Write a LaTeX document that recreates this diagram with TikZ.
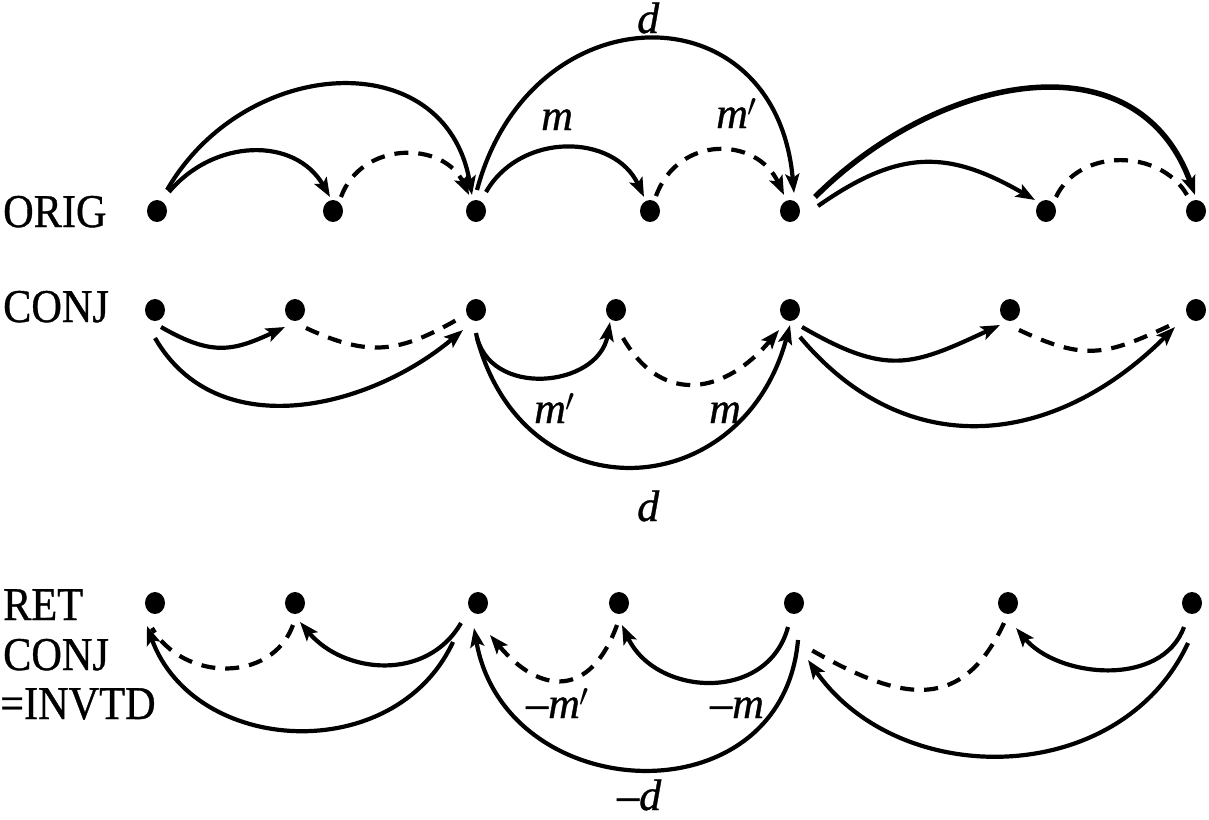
\documentclass[tikz,border=0pt]{standalone}
\usepackage{fontspec}
\setmainfont[FakeBold=0.8]{Liberation Serif}
\usetikzlibrary{arrows.meta,shapes.geometric}
\begin{document}
\begin{tikzpicture}[x=1pt,y=1pt,
 dot/.style={ellipse,fill=black,inner sep=0pt,minimum width=20pt,minimum height=22pt},
 arc/.style={line width=4.2pt,-{Stealth[length=19pt,width=14pt,inset=4pt]}},
 dsh/.style={line width=4.2pt,dash pattern=on 14pt off 10pt},
 dsharc/.style={dsh,-{Stealth[length=19pt,width=14pt,inset=4pt]}},
 lbl/.style={font=\fontsize{47}{52}\selectfont,anchor=base west,inner sep=0pt,xscale=0.9},
 ml/.style={font=\fontsize{44}{50}\selectfont\itshape,anchor=base west,inner sep=0pt}]
\useasboundingbox (0,0) rectangle (1209,-819);
\newcommand{\pr}{\scalebox{1.3}{$'$}}

% row labels
\node[lbl] (lorig) at (3,-227) {ORIG};
\node[lbl] (lconj) at (3,-322) {CONJ};
\node[lbl] (lret) at (3,-620) {RET};
\node[lbl] (lconjb) at (3,-670) {CONJ};
\node[lbl] (linv) at (0,-719) {=INVTD};

% dots
\foreach \n/\x in {1/157,2/333,3/476,4/650,5/790,6/1046,7/1196}
  \node[dot] (a\n) at (\x,-211) {};
\foreach \n/\x in {1/155,2/295,3/476,4/616,5/790,6/1010,7/1196}
  \node[dot] (b\n) at (\x,-310) {};
\foreach \n/\x in {1/155,2/295,3/478,4/619,5/794,6/1008,7/1192}
  \node[dot] (c\n) at (\x,-603) {};

% ORIG row
\draw[arc] ([shift={(10,21)}]a1.center) to[out=60,in=100,out distance=155,in distance=155] ([shift={(-4,16)}]a3.center);
\draw[arc] ([shift={(12,19)}]a1.center) to[out=50,in=120,out distance=70,in distance=70] ([shift={(-3,14)}]a2.center);
\draw[dsharc] ([shift={(8,14)}]a2.center) to[out=70,in=115,out distance=60,in distance=60] ([shift={(-7,16)}]a3.center);
\draw[arc] ([shift={(1,21)}]a3.center) to[out=75,in=95,out distance=207,in distance=207] ([shift={(4,18)}]a5.center);
\draw[arc] ([shift={(10,19)}]a3.center) to[out=60,in=115,out distance=70,in distance=70] ([shift={(-6,14)}]a4.center);
\draw[dsharc] ([shift={(6,15)}]a4.center) to[out=70,in=115,out distance=65,in distance=65] ([shift={(-6,16)}]a5.center);
\draw[arc,line width=5.5pt] ([shift={(25,14)}]a5.center) to[out=45,in=110,out distance=172,in distance=172] ([shift={(-1,16)}]a7.center);
\draw[arc] ([shift={(28,5)}]a5.center) to[out=35,in=150,out distance=100,in distance=100] ([shift={(-11,11)}]a6.center);
\draw[dsh] ([shift={(10,14)}]a6.center) to[out=65,in=120,out distance=54,in distance=54] ([shift={(-9,16)}]a7.center);

\node[ml] (lab1) at (637,-33) {d};
\node[ml] (lab2) at (541,-130) {m};
\node[ml] (lab3) at (716,-128) {m\pr};

% CONJ row
\draw[arc] ([shift={(6,-17)}]b1.center) to[out=-30,in=-155,out distance=58,in distance=58] ([shift={(-10,-17)}]b2.center);
\draw[arc] ([shift={(0,-28)}]b1.center) to[out=-60,in=-140,out distance=124,in distance=124] ([shift={(-13,-20)}]b3.center);
\draw[dsh] ([shift={(11,-18)}]b2.center) to[out=-25,in=-150,out distance=70,in distance=70] ([shift={(-16,-8)}]b3.center);
\draw[arc] ([shift={(0,-23)}]b3.center) to[out=-80,in=-100,out distance=67,in distance=67] ([shift={(-6,-12)}]b4.center);
\draw[arc] ([shift={(1,-28)}]b3.center) to[out=-75,in=-105,out distance=186,in distance=186] ([shift={(0,-15)}]b5.center);
\draw[dsharc] ([shift={(7,-28)}]b4.center) to[out=-60,in=-130,out distance=81,in distance=81] ([shift={(-11,-20)}]b5.center);
\draw[arc] ([shift={(12,-17)}]b5.center) to[out=-30,in=-155,out distance=98,in distance=98] ([shift={(-10,-15)}]b6.center);
\draw[arc] ([shift={(10,-27)}]b5.center) to[out=-50,in=-135,out distance=168,in distance=168] ([shift={(-21,-17)}]b7.center);
\draw[dsh] ([shift={(9,-20)}]b6.center) to[out=-25,in=-155,out distance=73,in distance=73] ([shift={(-25,-15)}]b7.center);

\node[ml] (lab4) at (534,-423) {m\pr};
\node[ml] (lab5) at (709,-423) {m};
\node[ml] (lab6) at (637,-521) {d};

% RET CONJ row
\draw[arc] ([shift={(-17,-20)}]c3.center) to[out=-120,in=-50,out distance=68,in distance=68] ([shift={(5,-19)}]c2.center);
\draw[arc] ([shift={(-25,-39)}]c3.center) to[out=-115,in=-70,out distance=138,in distance=138] ([shift={(-8,-23)}]c1.center);
\draw[dsh] ([shift={(-2,-22)}]c2.center) to[out=-110,in=-60,out distance=62,in distance=62] ([shift={(-3,-25)}]c1.center);
\draw[dsharc] ([shift={(-2,-22)}]c4.center) to[out=-110,in=-50,out distance=78,in distance=78] ([shift={(12,-32)}]c3.center);
\draw[arc] ([shift={(-6,-24)}]c5.center) to[out=-105,in=-65,out distance=79,in distance=79] ([shift={(3,-22)}]c4.center);
\draw[arc] ([shift={(4,-37)}]c5.center) to[out=-95,in=-80,out distance=182,in distance=182] ([shift={(-4,-25)}]c3.center);
\draw[dsh] ([shift={(-4,-20)}]c6.center) to[out=-115,in=-30,out distance=104,in distance=104] ([shift={(12,-44)}]c5.center);
\draw[arc] ([shift={(-8,-24)}]c7.center) to[out=-110,in=-50,out distance=65,in distance=65] ([shift={(8,-25)}]c6.center);
\draw[arc] ([shift={(-4,-40)}]c7.center) to[out=-115,in=-55,out distance=160,in distance=160] ([shift={(14,-57)}]c5.center);

\node[ml] (lab7) at (526,-718) {–m\pr};
\node[ml] (lab8) at (710,-718) {–m};
\node[ml] (lab9) at (617,-810) {–d};
\end{tikzpicture}
\end{document}
